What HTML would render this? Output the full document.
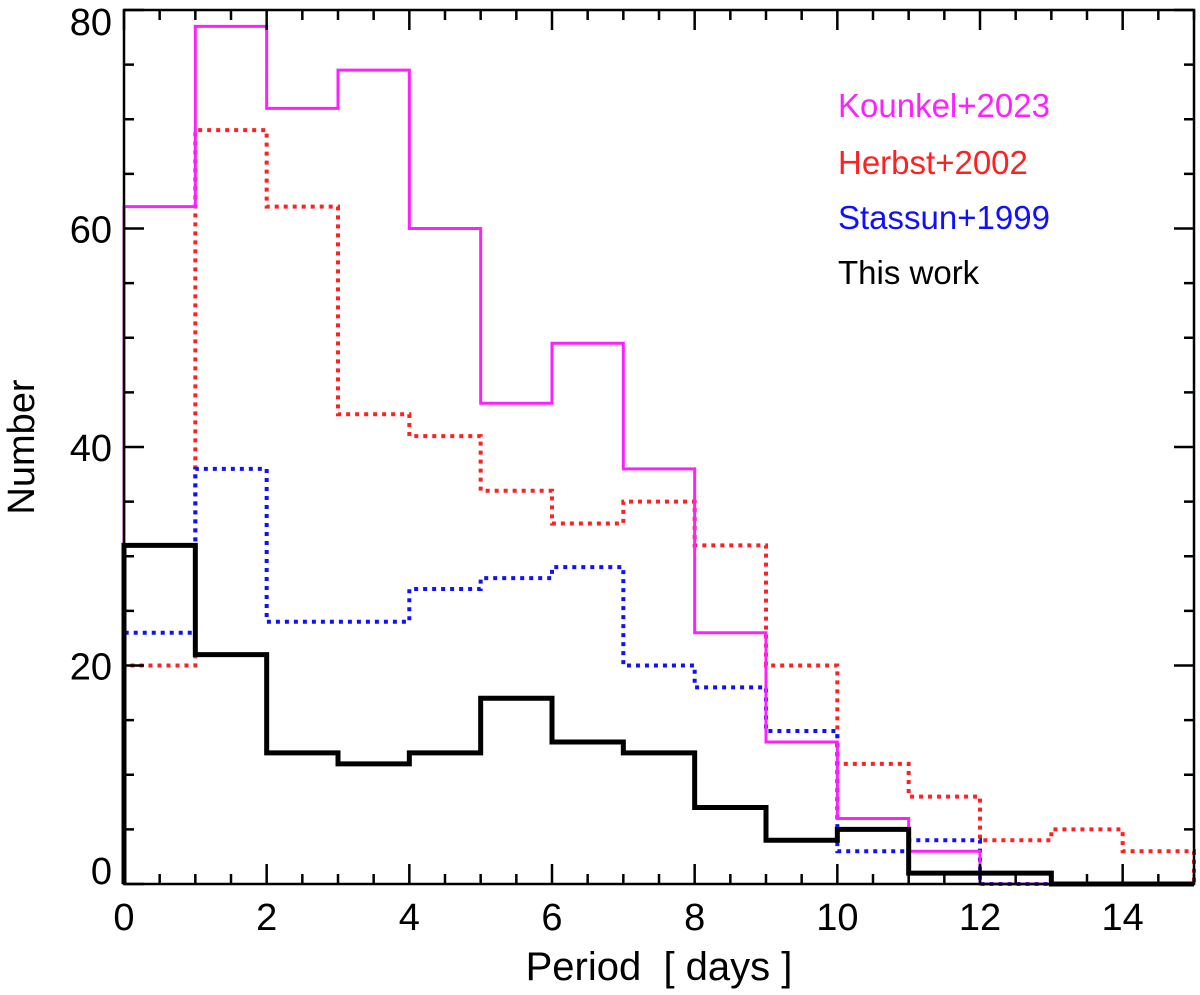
<!DOCTYPE html>
<html><head><meta charset="utf-8"><style>
html,body{margin:0;padding:0;background:#fff;}
svg{display:block;font-family:"Liberation Sans",sans-serif;}
</style></head><body>
<svg id="chart" width="1200" height="995" viewBox="0 0 1200 995" xmlns="http://www.w3.org/2000/svg"></svg>
<script>
const binEdges = [0,1,2,3,4,5,6,7,8,9,10,11,12,13,14,15];
const kounkel = [62,78.5,71,74.5,60,44,49.5,38,23,13,6,3,0,0,0];
const herbst  = [20,69,62,43,41,36,33,35,31,20,11,8,4,5,3];
const stassun = [23,38,24,24,27,28,29,20,18,14,3,4,0,0,0];
const thiswork= [31,21,12,11,12,17,13,12,7,4,5,1,1,0,0];
const xTicks = [0,2,4,6,8,10,12,14];
const yTicks = [0,20,40,60,80];
const legendLabels = ["Kounkel+2023","Herbst+2002","Stassun+1999","This work"];

const NS="http://www.w3.org/2000/svg";
const svg=document.getElementById('chart');
const L=124,R=1194,T=10,B=884;
const X=v=>L+(v-0)/(15-0)*(R-L);
const Y=v=>B-(v-0)/(80-0)*(B-T);
function mk(tag,attrs,parent){const e=document.createElementNS(NS,tag);for(const k in attrs)e.setAttribute(k,attrs[k]);(parent||svg).appendChild(e);return e;}

function stepPath(vals){
  let d=`M${X(binEdges[0])},${Y(0)}`;
  vals.forEach((v,i)=>{d+=` L${X(binEdges[i])},${Y(v)} L${X(binEdges[i+1])},${Y(v)}`;});
  d+=` L${X(binEdges[vals.length])},${Y(0)}`;
  return d;
}
const series=[
  {vals:herbst,color:"#ff2020",w:4,dash:"4,5",name:"herbst-2002-series"},
  {vals:stassun,color:"#1010ff",w:4,dash:"4,5",name:"stassun-1999-series"},
  {vals:kounkel,color:"#ff20ff",w:3,dash:"",name:"kounkel-2023-series"},
  {vals:thiswork,color:"#000",w:5,dash:"",name:"this-work-series"},
];
series.forEach(s=>{
  const p=mk('path',{d:stepPath(s.vals),fill:'none',stroke:s.color,'stroke-width':s.w,'stroke-dasharray':s.dash});
  
  
});

const fr=mk('rect',{x:L,y:T,width:R-L,height:B-T,fill:'none',stroke:'#000','stroke-width':2.5});



for(let v=0;v<=15;v+=0.5){
  const major=(v%2===0);const len=major?20:10;
  mk('line',{x1:X(v),x2:X(v),y1:B,y2:B-len,stroke:'#000','stroke-width':2.5});
  mk('line',{x1:X(v),x2:X(v),y1:T,y2:T+len,stroke:'#000','stroke-width':2.5});
}
xTicks.forEach(v=>{
  const t=mk('text',{x:X(v),y:B+46,'font-size':38,'text-anchor':'middle'});t.textContent=v;
  
  
});
for(let v=0;v<=80;v+=5){
  const major=(v%20===0);const len=major?20:10;
  mk('line',{x1:L,x2:L+len,y1:Y(v),y2:Y(v),stroke:'#000','stroke-width':2.5});
  mk('line',{x1:R,x2:R-len,y1:Y(v),y2:Y(v),stroke:'#000','stroke-width':2.5});
}
yTicks.forEach(v=>{
  const off = v===0 ? 0 : (v===80 ? 25 : 14);
  const t=mk('text',{x:L-12,y:Y(v)+off,'font-size':38,'text-anchor':'end'});t.textContent=v;
  
  
});
const xt=mk('text',{x:(L+R)/2,y:980,'font-size':40,'text-anchor':'middle','xml:space':'preserve'});
xt.style.whiteSpace='pre';
xt.textContent="Period  [ days ]";


const yt=mk('text',{x:34,y:447,'font-size':38,'text-anchor':'middle',transform:'rotate(-90 34 447)'});yt.textContent="Number";



const legColors=["#ff20ff","#ff2020","#1010ff","#000"];
const legY=[117,174,229,284];
legendLabels.forEach((s,i)=>{
  const t=mk('text',{x:838,y:legY[i],'font-size':33,fill:legColors[i]});t.textContent=s;
  
  
});
</script>
</body></html>
